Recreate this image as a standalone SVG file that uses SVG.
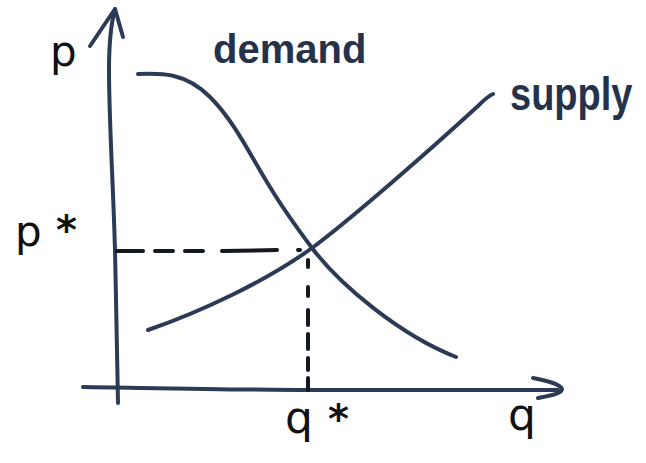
<svg xmlns="http://www.w3.org/2000/svg" width="646" height="463" viewBox="0 0 646 463">
<style>
.ink{fill:none;stroke:#2b3a55;stroke-width:4;stroke-linecap:round;stroke-linejoin:round}
.dash{fill:none;stroke:#141820;stroke-width:4;stroke-linecap:round}
.lbl{font-family:"DejaVu Sans","Liberation Sans",sans-serif;fill:#111}
.word{font-family:"Liberation Sans","DejaVu Sans",sans-serif;fill:#24324c;font-weight:bold}
</style>
<rect width="646" height="463" fill="#fff"/>
<g id="connectors">
  <g id="y-axis">
    <path class="ink" d="M118,403 C117,340 116,300 115,250 C113,180 109,120 109,70 C109,40 112,20 115,9"/>
    <path class="ink" d="M90,46 L115,9 L123,37"/>
  </g>
  <g id="x-axis">
    <path class="ink" d="M83,387 C150,388 250,390 310,390 C400,390 480,390 558,390"/>
    <path class="ink" d="M533,378 C548,381 560,384 562,389 C562,394 548,396 538,398"/>
  </g>
  <g id="guides">
    <path class="dash" d="M117,251 L143,251 M155,251 L173,251 M185,251 L203,251 M222,251 L277,250 M298,250 L300,250"/>
    <path class="dash" d="M308,260 L308,267 M308,287 L308,296 M308,310 L308,325 M308,334 L308,349 M308,358 L308,370 M308,378 L308,390"/>
  </g>
</g>
<g id="demand">
  <path class="ink" d="M138,74 C160,73 185,72 210,97 C235,122 250,155 270,187 C285,212 300,232 312,248 C340,285 400,335 456,357"/>
  <text class="word" x="213" y="63" font-size="40">demand</text>
</g>
<g id="supply">
  <path class="ink" d="M148,330 C200,312 265,282 312,248 C350,220 430,150 478,106 C484,100 488,96 493,94"/>
  <text class="word" transform="translate(510,110) scale(1,1.2)" x="0" y="0" font-size="38">supply</text>
</g>
<g id="labels">
  <text class="lbl" x="50" y="66" font-size="42">p</text>
  <text class="lbl" x="15" y="246" font-size="42">p</text>
  <text class="lbl" x="56" y="244" font-size="40" font-weight="bold">*</text>
  <text class="lbl" x="285" y="433" font-size="44">q</text>
  <text class="lbl" x="328" y="433" font-size="40" font-weight="bold">*</text>
  <text class="lbl" x="508" y="430" font-size="44">q</text>
</g>
</svg>
